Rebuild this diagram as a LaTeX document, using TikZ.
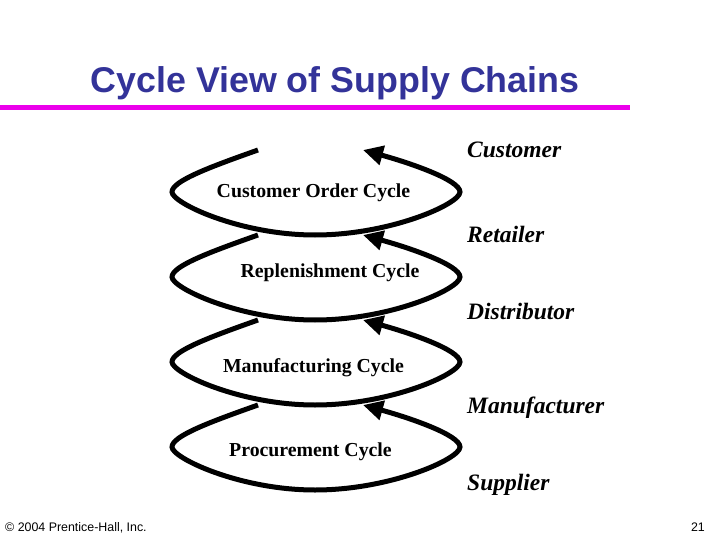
\documentclass[tikz,border=0pt]{standalone}
\usepackage{fontspec}
\setmainfont{Liberation Serif}
\newfontfamily\arialf{Liberation Sans}
\usetikzlibrary{arrows.meta}
\definecolor{titleblue}{RGB}{51,51,153}
\definecolor{rulemag}{RGB}{235,0,235}
\tikzset{
  cyc/.style={line width=5pt, -{Triangle[length=20pt,width=19pt]}},
  ttl/.style={font=\arialf\bfseries\fontsize{35.8}{40}\selectfont, text=titleblue, anchor=base, inner sep=0pt},
  place/.style={font=\bfseries\itshape\fontsize{23.5}{27}\selectfont, anchor=base west, inner sep=0pt},
  cyclabel/.style={font=\bfseries\fontsize{19.8}{23}\selectfont, anchor=base, inner sep=0pt},
  foot/.style={font=\arialf\fontsize{12.4}{14}\selectfont, inner sep=0pt}
}
\begin{document}
\begin{tikzpicture}[x=1pt,y=-1pt]
\useasboundingbox (0,0) rectangle (720,540);
% title
\node[ttl] (title) at (335,93) {Cycle View of Supply Chains};
\coordinate (ruleL) at (0,108);
\coordinate (ruleR) at (630,108);
\draw[rulemag, line width=5pt] (ruleL) -- (ruleR);
% cycles
\foreach \y in {150,235,320,405}{
  \draw[cyc] (258,\y) .. controls (210,\y+17) and (172,\y+31) .. (172,\y+42)
     .. controls (172,\y+53) and (240,\y+85) .. (315,\y+85)
     .. controls (390,\y+85) and (460,\y+54) .. (460,\y+42)
     .. controls (460,\y+30) and (410,\y+13) .. (363,\y);
}
% cycle labels
\node[cyclabel] (c1) at (313.5,198) {Customer Order Cycle};
\node[cyclabel] (c2) at (330,277) {Replenishment Cycle};
\node[cyclabel] (c3) at (313.5,372) {Manufacturing Cycle};
\node[cyclabel] (c4) at (310.5,456) {Procurement Cycle};
% stage labels
\node[place] (customer) at (467,158) {Customer};
\node[place] (retailer) at (467,243) {Retailer};
\node[place] (distributor) at (467,319) {Distributor};
\node[place] (manufacturer) at (467,413) {Manufacturer};
\node[place] (supplier) at (467,490) {Supplier};
% footer
\node[foot, anchor=base west] (copy) at (5,531) {© 2004 Prentice-Hall, Inc.};
\node[foot, anchor=base east] (page) at (705,531) {21};
\end{tikzpicture}
\end{document}
